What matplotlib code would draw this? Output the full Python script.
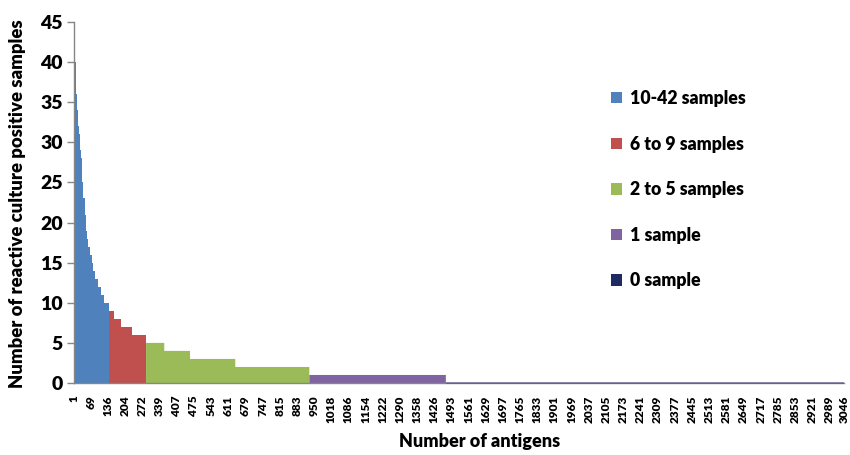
import numpy as np
import matplotlib
matplotlib.use("Agg")
import matplotlib.pyplot as plt
from matplotlib.patches import Patch

plt.rcParams["font.family"] = ["Lato", "DejaVu Sans"]
plt.rcParams["font.weight"] = "bold"

# Number of reactive culture-positive samples per antigen level,
# and how many antigens share each level (antigens sorted high to low).
levels = [42, 41, 40, 38, 36, 34, 33, 32, 31, 30, 29, 28, 27, 26, 25, 24, 23,
          22, 21, 20, 19, 18, 17, 16, 15, 14, 13, 12, 11, 10,
          9, 8, 7, 6,
          5, 4, 3, 2,
          1,
          0]
counts = [3, 1, 3, 2, 3, 2, 3, 3, 3, 2, 2, 4, 1, 1, 2, 2, 5,
          2, 2, 3, 3, 5, 5, 8, 7, 8, 8, 12, 14, 21,
          19, 27, 42, 57,
          72, 102, 179, 293,
          540,
          1575]

group_labels = ["10-42 samples", "6 to 9 samples", "2 to 5 samples", "1 sample", "0 sample"]
group_min = [10, 6, 2, 1, 0]
group_max = [42, 9, 5, 1, 0]
group_colors = ["#4F81BD", "#C0504D", "#9BBB59", "#8064A2", "#1F2A60"]

tick_labels = [1, 69, 136, 204, 272, 339, 407, 475, 543, 611, 679, 747, 815, 883,
               950, 1018, 1086, 1154, 1222, 1290, 1358, 1426, 1493, 1561, 1629,
               1697, 1765, 1833, 1901, 1969, 2037, 2105, 2173, 2241, 2309, 2377,
               2445, 2513, 2581, 2649, 2717, 2785, 2853, 2921, 2989, 3046]

values = np.repeat(levels, counts)
n = len(values)
edges = np.arange(n + 1) + 0.5  # antigen i occupies [i-0.5, i+0.5]

W, H = 850, 455
fig = plt.figure(figsize=(W / 100, H / 100), dpi=100)
ax = fig.add_axes([74 / W, 1 - 383 / H, 770 / W, 361 / H])

for lo, hi, col in zip(group_min, group_max, group_colors):
    idx = np.where((values >= lo) & (values <= hi))[0]
    s, e = idx[0], idx[-1] + 1
    if hi > 0:
        ax.stairs(values[s:e], edges[s:e + 1], fill=True, color=col,
                  linewidth=0, baseline=0)
    else:
        ax.stairs(values[s:e], edges[s:e + 1], fill=False, color="#5A4E8A",
                  linewidth=0.9, baseline=0, clip_on=False, zorder=3)

ax.set_xlim(0.5, n + 0.5)
ax.set_ylim(0, 45)
ax.set_yticks(np.arange(0, 46, 5))
ax.set_xticks(tick_labels)
ax.set_xticklabels([str(t) for t in tick_labels], rotation=90, fontsize=8.5,
                   fontweight="heavy")
ax.tick_params(axis="x", length=0, pad=9)
ax.tick_params(axis="y", length=5, width=1, color="#868686", pad=3,
               labelsize=14)
for lab in ax.get_yticklabels():
    lab.set_fontweight("heavy")

for side in ("top", "right"):
    ax.spines[side].set_visible(False)
for side in ("left", "bottom"):
    ax.spines[side].set_color("#868686")
    ax.spines[side].set_linewidth(1.0)

fig.text(18 / W, 1 - 204 / H, "Number of reactive culture positive samples",
         rotation=90, ha="center", va="center", fontsize=13.3, fontweight="heavy")
fig.text(480 / W, 1 - 442 / H, "Number of antigens", ha="center", va="center",
         fontsize=13, fontweight="heavy")

handles = [Patch(facecolor=c, edgecolor="none") for c in group_colors]
leg = fig.legend(handles, group_labels, loc="upper left",
                 bbox_to_anchor=(611 / W, 1 - 90 / H), frameon=False,
                 fontsize=12.7, handlelength=0.6, handleheight=0.6,
                 handletextpad=0.5, labelspacing=1.62, borderpad=0,
                 borderaxespad=0)
for t in leg.get_texts():
    t.set_fontweight("heavy")

fig.savefig("out.png", dpi=100)
